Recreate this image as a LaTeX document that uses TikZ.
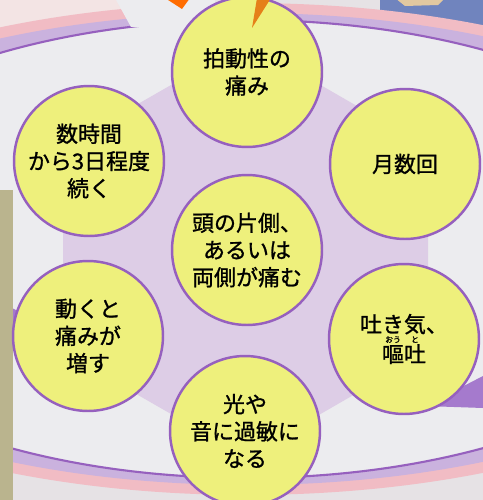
\documentclass[tikz,border=0pt]{standalone}
\usepackage{fontspec}
\newfontfamily\jfont[FakeBold=1.1]{Noto Sans CJK JP}
\usepackage{tikz}
\usetikzlibrary{positioning}
\definecolor{bubble}{RGB}{238,240,124}
\definecolor{rim}{RGB}{150,96,190}
\definecolor{hexfill}{RGB}{221,205,230}
\definecolor{inside}{RGB}{236,236,239}
\definecolor{bandlav}{RGB}{202,178,222}
\definecolor{bandpink}{RGB}{241,188,196}
\definecolor{tail}{RGB}{165,122,205}
\definecolor{paper}{RGB}{230,226,229}
\definecolor{sketch}{RGB}{243,228,228}
\definecolor{khaki}{RGB}{186,180,142}
\definecolor{coat}{RGB}{112,132,190}
\definecolor{skin}{RGB}{226,200,160}
\newcommand\furi[2]{\makebox[0pt][l]{\makebox[1em]{\raisebox{0.9em}[0pt][0pt]{\fontsize{4.5}{4.5}\selectfont #2}}}#1}

\begin{document}
\begin{tikzpicture}[x=0.02cm,y=-0.02cm,
  sym/.style={circle,draw=rim,line width=1.4pt,fill=bubble,minimum size=3cm,inner sep=0pt,
    align=center,font=\jfont\fontsize{12.5}{15.5}\selectfont}]
\useasboundingbox (0,0) rectangle (483,500);
\clip (0,0) rectangle (483,500);
\fill[paper] (0,0) rectangle (483,500);
\fill[sketch] (0,0) rectangle (140,45);
\fill[coat] (380,-2) -- (483,-2) -- (483,60) -- (380,60) -- cycle;
\fill[skin] (395,-2) -- (445,-2) -- (438,5) -- (405,6) -- cycle;
% frame band
\fill[bandpink] (247,249) ellipse [x radius=11.38cm,y radius=4.92cm];
\fill[bandlav] (247,249) ellipse [x radius=10.92cm,y radius=4.72cm];
\filldraw[fill=inside,draw=rim,line width=1.2pt] (247,249) ellipse [x radius=9.56cm,y radius=4.58cm];
\fill[inside] (115,-2) -- (131,27) -- (215,27) -- (215,-2) -- cycle;
\fill[tail] (0,302) -- (24,314) -- (24,326) -- (0,336) -- cycle;
\fill[tail] (425,406) -- (483,376) -- (483,408) -- cycle;
\fill[khaki] (0,190) rectangle (13,500);
\fill[orange!85!red] (165,-2) -- (190,-2) -- (182,9) -- cycle;
% hexagon
\fill[hexfill] (246,42) -- (428,147) -- (428,352) -- (246,457) -- (63,352) -- (63,147) -- cycle;
% symptoms
\node[sym] (T) at (247,72) {拍動性の\\痛み};
\node[sym] (L) at (89,161) {数時間\\から3日程度\\続く};
\node[sym] (R) at (405,164) {月数回};
\node[sym] (C) at (247,250) {頭の片側、\\あるいは\\両側が痛む};
\node[sym] (M) at (88,336) {動くと\\痛みが\\増す};
\node[sym] (N) at (404,339) {吐き気、\\[1.5pt]\furi{嘔}{おう}\furi{吐}{と}};
\node[sym] (B) at (245,431) {光や\\音に過敏に\\なる};
\fill[orange!60!brown] (252,28) -- (257,-2) -- (271,-2) -- cycle;
\end{tikzpicture}
\end{document}
